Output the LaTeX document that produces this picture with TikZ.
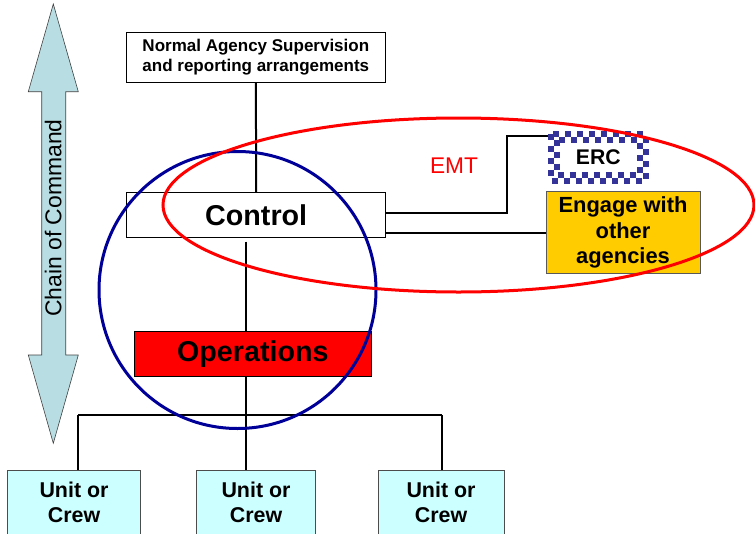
\documentclass[tikz,border=0pt]{standalone}
\usepackage{fontspec}
\setmainfont{Liberation Sans}
\definecolor{cocfill}{RGB}{184,222,227}
\definecolor{unitfill}{RGB}{204,255,255}
\definecolor{engfill}{RGB}{255,204,0}
\definecolor{navyring}{RGB}{0,0,153}
\definecolor{checkblue}{RGB}{51,51,153}
\begin{document}
\begin{tikzpicture}[x=1pt,y=-1pt,
  box/.style={draw=black, line width=0.8pt, inner sep=0pt, align=center, font=\bfseries},
  bigtext/.style={font={\bfseries\fontsize{28.7}{33}\selectfont}},
  unitbox/.style={box, draw=black!70, fill=unitfill, minimum height=64.2, font={\bfseries\fontsize{21.4}{25}\selectfont}},
  wire/.style={line width=2pt, black},
  checker/.style={line width=6pt, checkblue, dash pattern=on 6pt off 6pt},
  ring/.style={line width=3pt}]
\useasboundingbox (0,0) rectangle (755,533);
\clip (0,0) rectangle (755,533);

% chain of command double arrow
\draw[fill=cocfill, draw=black!75, line width=0.6pt]
  (53.3,4) -- (78.3,91.7) -- (65.7,91.7) -- (65.7,355) -- (78.3,355) -- (53.3,443.3)
  -- (28.3,355) -- (41.7,355) -- (41.7,91.7) -- (28.3,91.7) -- cycle;
\node[rotate=90, inner sep=0pt, font={\fontsize{22.9}{27}\selectfont}] (coc) at (53.3,218) {Chain of Command};

% boxes
\node[box, fill=white, minimum width=258.3, minimum height=50.4,
      font={\bfseries\fontsize{17}{20}\selectfont}] (sup) at (255.85,57.5)
      {Normal Agency Supervision\\and reporting arrangements};
\node[box, bigtext, fill=white, minimum width=259, minimum height=45] (ctrl) at (256.2,214.8) {Control};
\node[box, bigtext, fill=red, minimum width=237.7, minimum height=45] (ops) at (252.85,354.2) {Operations};
\node[unitbox, minimum width=133.4] (u1) at (74,502.8) {Unit or\\Crew};
\node[unitbox, minimum width=118.6] (u2) at (256,502.8) {Unit or\\Crew};
\node[unitbox, minimum width=126] (u3) at (441,502.8) {Unit or\\Crew};
\node[box, draw=none, fill=white, minimum width=100, minimum height=52.3,
      font={\bfseries\fontsize{21.2}{25}\selectfont}] (erc) at (598.3,157.2) {ERC};
% two offset rows of squares give the checkered frame
\draw[checker] ([shift={(3pt,-3pt)}]erc.north west) rectangle ([shift={(-3pt,3pt)}]erc.south east);
\draw[checker] ([shift={(9pt,-9pt)}]erc.north west) rectangle ([shift={(-9pt,9pt)}]erc.south east);
\node[box, draw=black!65, fill=engfill, minimum width=154, minimum height=81.6,
      font={\bfseries\fontsize{21.9}{25.8}\selectfont}] (eng) at (623,232.5) {Engage with\\other\\agencies};
\node[text=red, inner sep=0pt, font={\fontsize{22.7}{27}\selectfont}] (emt) at (454,166) {EMT};

% connectors
\coordinate (spine) at (245.5,0);
\coordinate (barL) at (78.3,415);
\coordinate (barM) at (245.5,415);
\coordinate (barR) at (441.7,415);
\coordinate (elbow) at (507,136);
\draw[wire] (sup.south) -- (ctrl.north);
\draw[wire] ([yshift=-4pt]ctrl.south -| spine) -- (ops.north -| spine);
\draw[wire] (ops.south -| spine) -- (barM);
\draw[wire] (barL) -- (barR);
\draw[wire] (barL) -- (barL |- u1.north);
\draw[wire] (barM) -- (barM |- u2.north);
\draw[wire] (barR) -- (barR |- u3.north);
\draw[wire] ([yshift=1.8pt]ctrl.east) -| (elbow) -- (elbow -| erc.west);
\draw[wire] ([yshift=-18.2pt]ctrl.east) coordinate (c2) -- (c2 -| eng.west);

% overlays
\draw[ring, navyring] (237.5,290) circle[radius=138.5pt];
\draw[ring, red] (458.5,205) ellipse[x radius=295.5pt, y radius=87pt];
\end{tikzpicture}
\end{document}
